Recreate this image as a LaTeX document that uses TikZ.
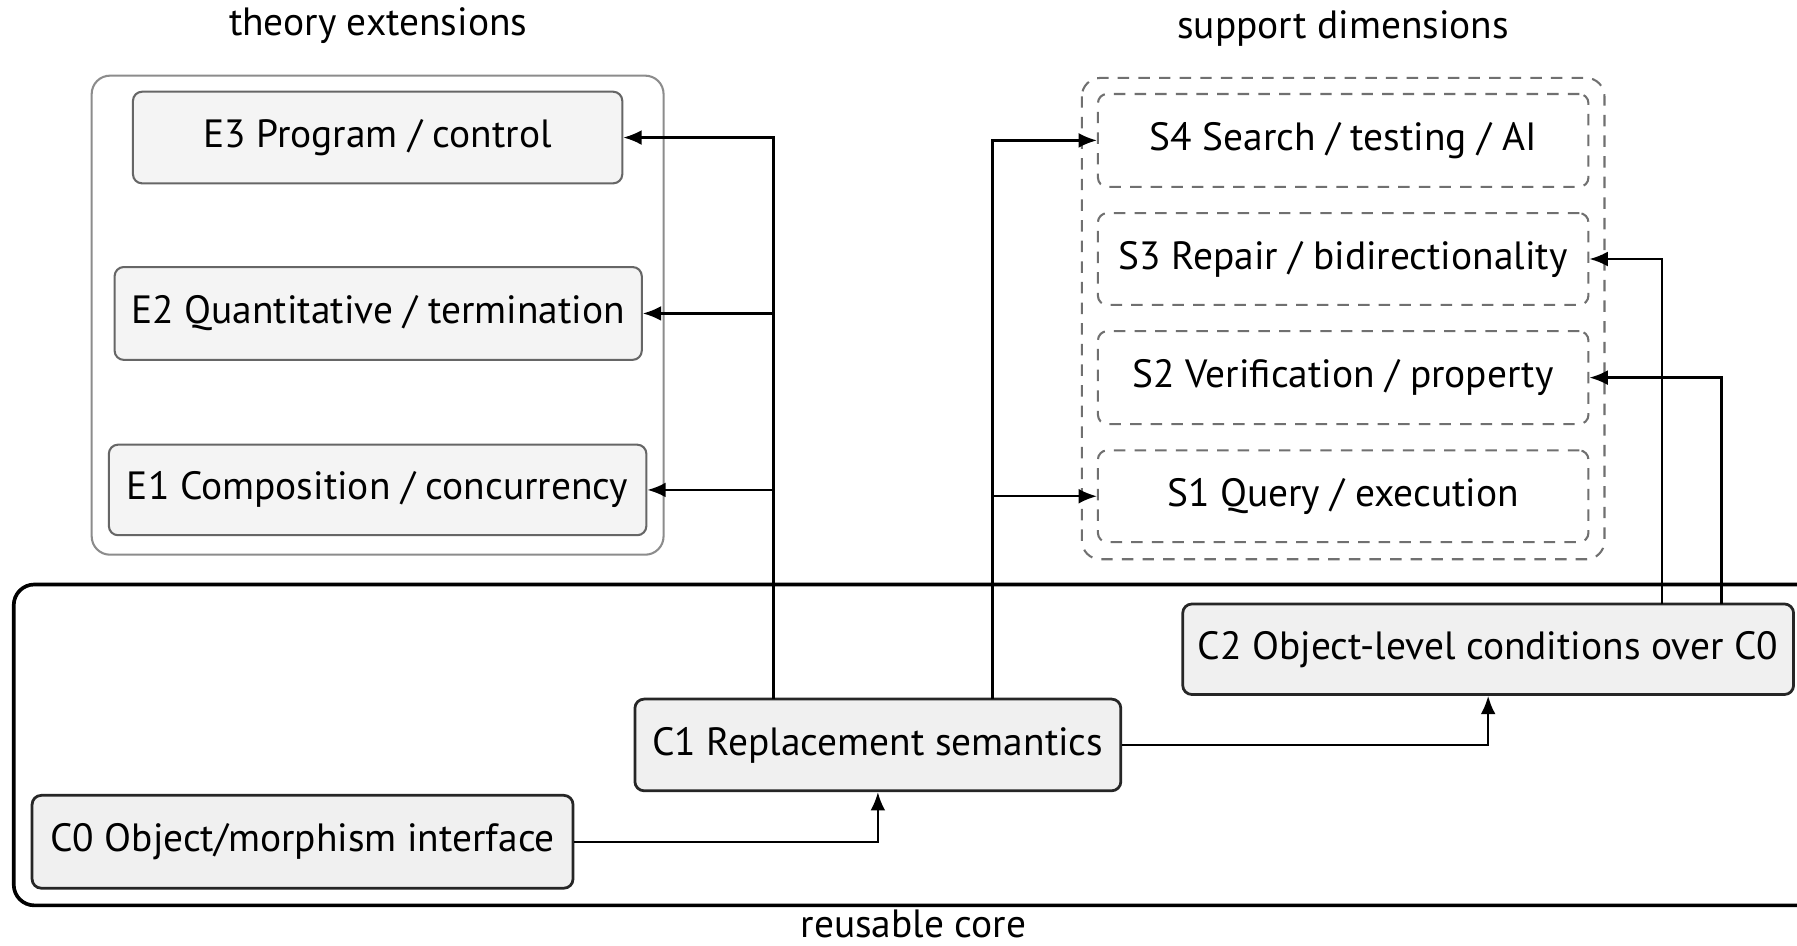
\documentclass[tikz,border=0pt]{standalone}
\usepackage{fontspec}
\setmainfont{PT Sans}
\usetikzlibrary{arrows.meta}
\definecolor{boxfill}{HTML}{F0F0F0}
\definecolor{grpgray}{HTML}{8C8C8C}
\definecolor{dashgray}{HTML}{707070}
\tikzset{
  every node/.style={font=\fontsize{17.2}{20}\selectfont},
  cbox/.style={draw=black!85, line width=1.2pt, fill=boxfill, rounded corners=4pt, inner sep=0pt},
  ebox/.style={draw=black!60, line width=0.9pt, fill=boxfill!70!white, rounded corners=4pt, inner sep=0pt},
  sbox/.style={draw=dashgray, line width=0.9pt, dash pattern=on 5pt off 4pt, rounded corners=4pt, inner sep=0pt},
  conn/.style={draw=black, line width=1pt, -{Latex[length=8pt,width=6.5pt]}},
  lbl/.style={inner sep=0pt, anchor=base}
}
\begin{document}
\begin{tikzpicture}[x=0.5pt,y=-0.5pt]
\useasboundingbox (0,0) rectangle (1568,825);
\fill[white] (0,0) rectangle (1568,825);
% group containers
\draw[draw=grpgray, line width=0.9pt, rounded corners=8pt] (80,66) rectangle (579,484);
\draw[draw=dashgray, line width=0.9pt, dash pattern=on 5pt off 4pt, rounded corners=8pt] (944,68) rectangle (1400,488);
\begin{scope}
\clip (0,0) rectangle (1568,825);
\draw[draw=black, line width=1.6pt, rounded corners=9pt] (12,510) rectangle (1620,790);
\end{scope}
% group labels
\node[lbl] (tlabel) at (330,31) {theory extensions};
\node[lbl] (slabel) at (1172,34) {support dimensions};
\node[lbl] (clabel) at (797,818) {reusable core};
% E boxes
\node[ebox, minimum width=213.5pt, minimum height=40pt] (E3) at (329.5,120) {E3 Program / control};
\node[ebox, minimum width=230pt, minimum height=40.5pt] (E2) at (330,273.5) {E2 Quantitative / termination};
\node[ebox, minimum width=234.5pt, minimum height=39.5pt] (E1) at (329.5,427.5) {E1 Composition / concurrency};
% S boxes
\node[sbox, minimum width=214pt, minimum height=40.5pt] (S4) at (1172,122.5) {S4 Search / testing / AI};
\node[sbox, minimum width=214pt, minimum height=40pt] (S3) at (1172,226) {S3 Repair / bidirectionality};
\node[sbox, minimum width=214pt, minimum height=40.5pt] (S2) at (1172,329.5) {S2 Verification / property};
\node[sbox, minimum width=214pt, minimum height=40pt] (S1) at (1172,433) {S1 Query / execution};
% C boxes
\node[cbox, minimum width=266.5pt, minimum height=39.5pt] (C2) at (1298.5,566.5) {C2 Object-level conditions over C0};
\node[cbox, minimum width=212pt, minimum height=40pt] (C1) at (766,650) {C1 Replacement semantics};
\node[cbox, minimum width=236pt, minimum height=40.5pt] (C0) at (264,734.5) {C0 Object/morphism interface};
% connectors
\coordinate (c1a) at (675,610);
\coordinate (c1b) at (866,610);
\coordinate (c2a) at (1450,527);
\coordinate (c2b) at (1502,527);
\draw[conn] (c1a) |- (E3.east);
\draw[conn] (c1a |- E2.east) -- (E2.east);
\draw[conn] (c1a |- E1.east) -- (E1.east);
\draw[conn] (c1b) |- (S4.west);
\draw[conn] (c1b |- S1.west) -- (S1.west);
\draw[conn] (c2a) |- (S3.east);
\draw[conn] (c2b) |- (S2.east);
\draw[conn] (C0.east) -| (C1.south);
\draw[conn] (C1.east) -| (C2.south);
\end{tikzpicture}
\end{document}
